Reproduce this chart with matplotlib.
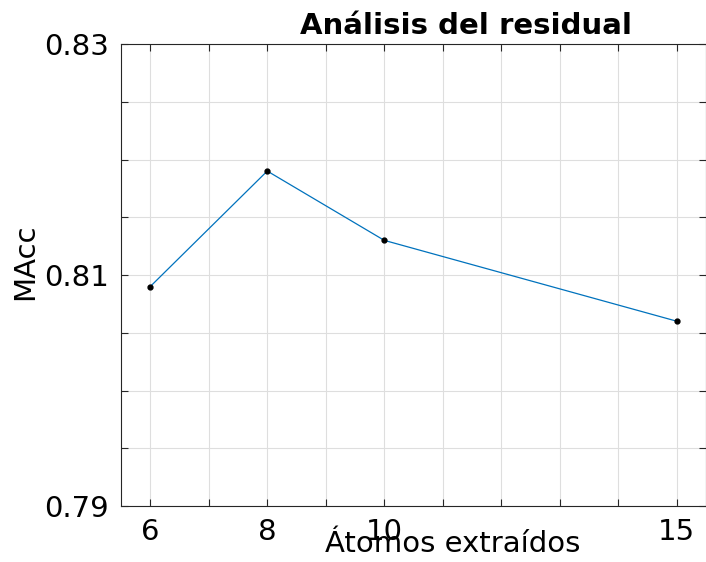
import matplotlib
matplotlib.use("Agg")
import matplotlib.pyplot as plt
from matplotlib.ticker import MultipleLocator, FixedLocator

# atoms extracted vs. mean accuracy
atomos = [6, 8, 10, 15]
macc = [0.8090, 0.8190, 0.8130, 0.8060]

x_major = [6, 8, 10, 15]
y_major = [0.79, 0.81, 0.83]

fig = plt.figure(figsize=(7.06, 5.62), dpi=100)
ax = fig.add_axes([121 / 706, 56 / 562, 585 / 706, 462 / 562])

ax.plot(atomos, macc, color="#0072BD", lw=0.9, zorder=3)
ax.plot(atomos, macc, ls="none", marker="o", ms=3.5, color="black", zorder=4)

ax.set_xlim(5.5, 15.5)
ax.set_ylim(0.79, 0.83)

ax.xaxis.set_major_locator(FixedLocator(x_major))
ax.xaxis.set_minor_locator(MultipleLocator(1))
ax.yaxis.set_major_locator(FixedLocator(y_major))
ax.yaxis.set_minor_locator(MultipleLocator(0.005))
ax.set_xticklabels([str(v) for v in x_major])
ax.set_yticklabels(["%.2f" % v for v in y_major])

ax.grid(which="both", color="#dedede", lw=0.8, zorder=0)
ax.set_axisbelow(True)
ax.tick_params(which="both", direction="in", top=True, right=True,
               length=5, width=0.8, color="#262626", labelsize=21, pad=9)

for s in ax.spines.values():
    s.set_color("#262626")
    s.set_linewidth(0.8)

ax.set_title("Análisis del residual", fontsize=21, fontweight="bold", x=0.59, pad=7)
ax.set_xlabel("Átomos extraídos", fontsize=21)
ax.xaxis.set_label_coords(0.5675, -0.052)
ax.set_ylabel("MAcc", fontsize=21)
ax.yaxis.set_label_coords(-0.14, 0.528)

fig.savefig("out.png", dpi=100)
